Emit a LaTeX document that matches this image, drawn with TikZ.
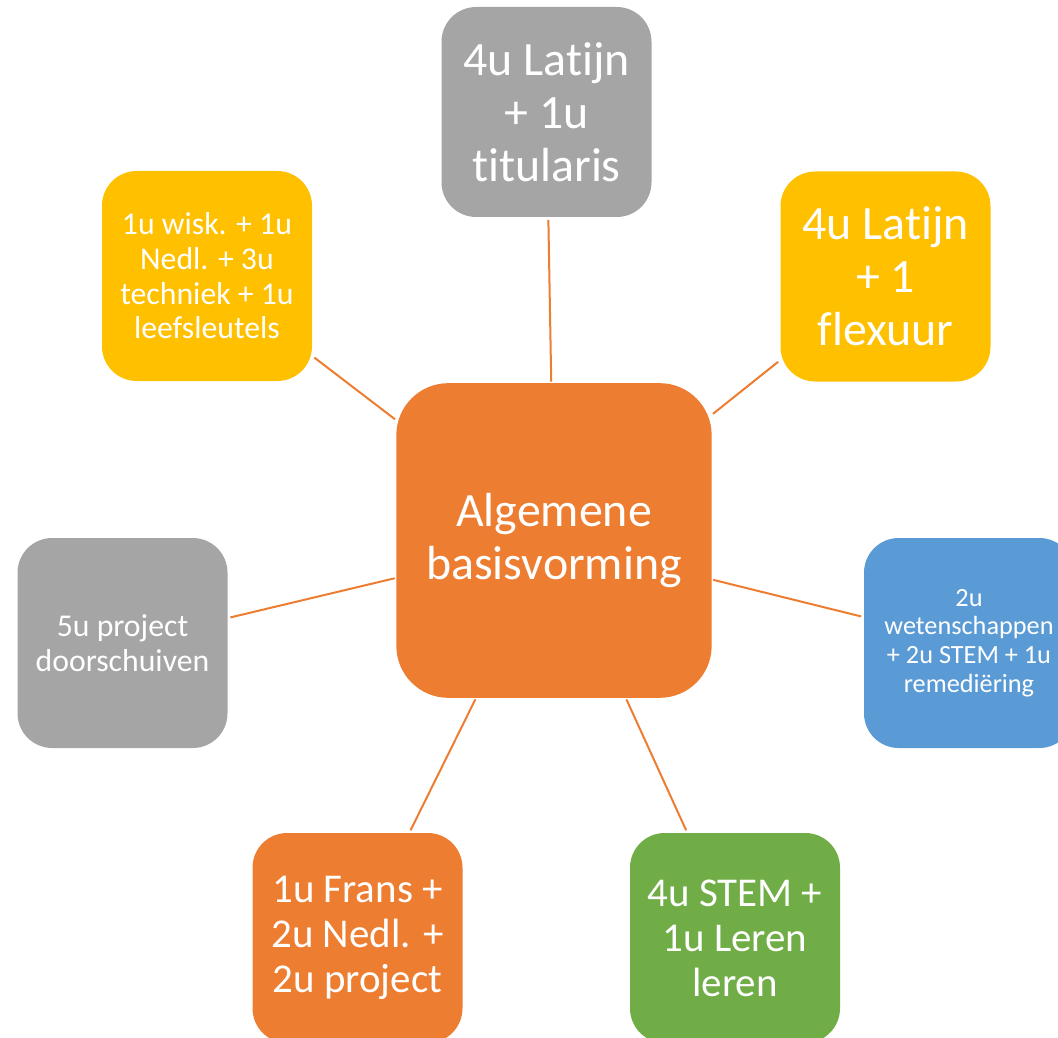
\documentclass[tikz,border=0pt]{standalone}
\usepackage{fontspec}
\setmainfont{Carlito}[Ligatures={NoCommon}]
\definecolor{oranje}{HTML}{ED7D31}
\definecolor{grijs}{HTML}{A5A5A5}
\definecolor{geel}{HTML}{FFC000}
\definecolor{blauw}{HTML}{5B9BD5}
\definecolor{groen}{HTML}{70AD47}

\begin{document}
\begin{tikzpicture}[x=0.75pt,y=-0.75pt,
  blok/.style={rounded corners=26pt,minimum width=157.5pt,minimum height=157.5pt,
    inner sep=0pt,align=center,text=white},
  kern/.style={blok,rounded corners=39pt,minimum width=236.5pt,minimum height=236pt,
    fill=oranje,tekstL},
  tekstL/.style={font=\fontsize{35.9}{39.8}\selectfont},
  tekstM/.style={font=\fontsize{30.7}{33.8}\selectfont},
  tekstS/.style={font=\fontsize{23.8}{26}\selectfont},
  tekstXS/.style={font=\fontsize{19.7}{21.5}\selectfont},
  lijn/.style={draw=oranje,line width=1.5pt}]

\useasboundingbox (0,0) rectangle (1058,1038);

% centrum
\node[kern] (abv) at (554,540.5) {Algemene\\basisvorming};

% satellieten, met de klok mee
\node[blok,fill=grijs,tekstL] (titularis) at (546.5,112) {4u Latijn\\+ 1u\\titularis};
\node[blok,fill=geel,tekstL] (flexuur) at (885.5,276.5) {4u Latijn\\+ 1\\flexuur};
\node[blok,fill=blauw,tekstXS] (remediering) at (969,643) {2u\\wetenschappen\\+ 2u STEM + 1u\\remediëring};
\node[blok,fill=groen,tekstM] (stem) at (735,938) {4u STEM +\\1u Leren\\leren};
\node[blok,fill=oranje,tekstM] (frans) at (357.5,938) {1u Frans +\\2u Nedl. +\\2u project};
\node[blok,fill=grijs,tekstS] (project) at (122.5,643) {5u project\\doorschuiven};
\node[blok,fill=geel,tekstS] (techniek) at (207,276) {1u wisk. + 1u\\Nedl. + 3u\\techniek + 1u\\leefsleutels};

% verbindingen
\foreach \s in {titularis,flexuur,remediering,stem,frans,project,techniek}
  \draw[lijn,shorten <=1pt,shorten >=2pt] (abv) -- (\s);

\end{tikzpicture}
\end{document}
